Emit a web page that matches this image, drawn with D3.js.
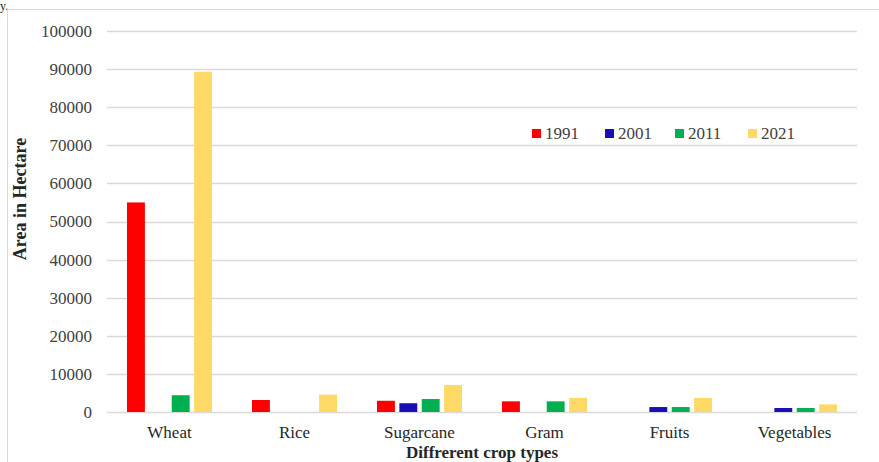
<!DOCTYPE html>
<html>
<head>
<meta charset="utf-8">
<script src="https://cdn.jsdelivr.net/npm/d3@7"></script>
<style>
  html, body { margin: 0; padding: 0; background: #fff; }
  svg { display: block; }
</style>
</head>
<body>
<script>
// Area under crops (hectare) by census year
const crops = ["Wheat", "Rice", "Sugarcane", "Gram", "Fruits", "Vegetables"];
const years = ["1991", "2001", "2011", "2021"];
const area1991 = [55000, 3150, 2950, 2800, 0, 0];
const area2001 = [0, 0, 2300, 0, 1300, 1050];
const area2011 = [4400, 0, 3400, 2800, 1300, 1050];
const area2021 = [89300, 4550, 7100, 3700, 3700, 2000];
const yTicks = [0, 10000, 20000, 30000, 40000, 50000, 60000, 70000, 80000, 90000, 100000];
const colors = ["#ff0000", "#1a0fb4", "#00b050", "#ffd966"];

const seriesValues = [area1991, area2001, area2011, area2021];

const W = 879, H = 462;
const plot = { left: 107, right: 857, top: 31, bottom: 412 };
const serif = "'Liberation Serif', 'DejaVu Serif', serif";

const svg = d3.select("body").append("svg")
  .attr("width", W).attr("height", H);

// text fragment from the surrounding page
svg.append("text")
  .attr("x", 0).attr("y", 10)
  .attr("font-family", serif).attr("font-size", 12)
  .attr("fill", "#222").text("y.");

// chart frame
svg.append("rect")
  .attr("x", 7.5).attr("y", 9.5)
  .attr("width", 880).attr("height", 470)
  .attr("fill", "none").attr("stroke", "#d9d9d9").attr("stroke-width", 1);

const x0 = d3.scaleBand().domain(crops).range([plot.left, plot.right]).paddingInner(0.32).paddingOuter(0.16);
const x1 = d3.scaleBand().domain(years).range([0, x0.bandwidth()]).paddingInner(0.2);
const y = d3.scaleLinear().domain([0, 100000]).range([plot.bottom, plot.top]);

// horizontal gridlines
svg.append("g")
  .selectAll("line").data(yTicks).join("line")
  .attr("x1", plot.left).attr("x2", plot.right)
  .attr("y1", d => Math.round(y(d)) + 0.5).attr("y2", d => Math.round(y(d)) + 0.5)
  .attr("stroke", "#d9d9d9").attr("stroke-width", 1.3);

// y axis labels
const yAxis = d3.axisLeft(y).tickValues(yTicks).tickSize(0).tickPadding(0).tickFormat(d3.format("d"));
const gy = svg.append("g").attr("transform", `translate(${plot.left - 15},0)`).call(yAxis);
gy.select(".domain").remove();
gy.selectAll("text").attr("font-family", serif).attr("font-size", 17).attr("fill", "#404040");

// bars
const groups = svg.append("g").selectAll("g").data(crops).join("g")
  .attr("transform", d => `translate(${x0(d)},0)`);
groups.selectAll("rect")
  .data((c, i) => years.map((yr, s) => ({ yr, s, v: seriesValues[s][i] })))
  .join("rect")
  .filter(d => d.v > 0)
  .attr("x", d => x1(d.yr))
  .attr("width", x1.bandwidth())
  .attr("y", d => y(d.v))
  .attr("height", d => y(0) - y(d.v))
  .attr("fill", d => colors[d.s]);

// x axis labels
const xAxis = d3.axisBottom(x0).tickSize(0).tickPadding(14);
const gx = svg.append("g").attr("transform", `translate(0,${plot.bottom})`).call(xAxis);
gx.select(".domain").remove();
gx.selectAll("text").attr("font-family", serif).attr("font-size", 17).attr("fill", "#262626");

// axis titles
svg.append("text")
  .attr("transform", `translate(26,199) rotate(-90)`)
  .attr("text-anchor", "middle")
  .attr("font-family", serif).attr("font-size", 18).attr("font-weight", "bold").attr("fill", "#262626")
  .text("Area in Hectare");

svg.append("text")
  .attr("x", 482).attr("y", 458)
  .attr("text-anchor", "middle")
  .attr("font-family", serif).attr("font-size", 17).attr("font-weight", "bold").attr("fill", "#262626")
  .text("Diffrerent crop types");

// legend
const legendX = [532, 605, 675, 748];
const legend = svg.append("g").selectAll("g").data(years).join("g")
  .attr("transform", (d, i) => `translate(${legendX[i]},133)`);
legend.append("rect").attr("x", 0).attr("y", -4).attr("width", 9).attr("height", 9)
  .attr("fill", (d, i) => colors[i]);
legend.append("text").attr("x", 13).attr("y", 6)
  .attr("font-family", serif).attr("font-size", 17).attr("fill", "#404040")
  .text(d => d);
</script>
</body>
</html>
